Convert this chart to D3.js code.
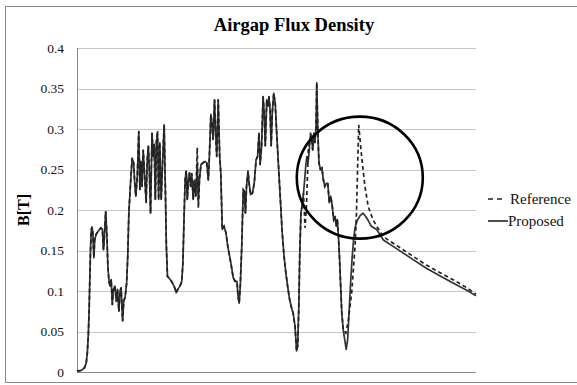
<!DOCTYPE html>
<html>
<head>
<meta charset="utf-8">
<script src="https://cdn.jsdelivr.net/npm/d3@7"></script>
<style>
  body { margin: 0; background: #fff; }
  svg text { font-family: 'Liberation Serif', 'Times New Roman', Times, 'DejaVu Serif', serif !important; }
</style>
</head>
<body>
<div id="chart"></div>
<script>
// sample positions along the airgap (no labels on the x axis)
const position = [0, 12, 20, 25, 28, 31, 33, 35, 37, 39, 41, 43, 46, 48, 52, 58, 65, 69, 72, 74, 78, 81, 84, 87, 90, 93, 96, 99, 103, 107, 110, 114, 117, 120, 124, 127, 131, 135, 138, 141, 145, 150, 154, 157, 160, 164, 168, 171, 174, 177, 180, 184, 188, 191, 194, 197, 200, 204, 207, 210, 213, 216, 219, 222, 225, 229, 233, 237, 240, 243, 246, 250, 257, 264, 270, 274, 280, 285, 288, 291, 294, 297, 300, 303, 306, 309, 312, 316, 319, 323, 327, 330, 333, 337, 342, 348, 353, 357, 360, 364, 367, 370, 374, 377, 380, 384, 388, 391, 395, 400, 405, 410, 415, 420, 425, 430, 435, 438, 441, 444, 448, 452, 455, 458, 461, 465, 468, 472, 477, 482, 487, 491, 495, 498, 502, 506, 509, 512, 516, 519, 522, 525, 528, 531, 535, 539, 543, 548, 553, 558, 563, 568, 573, 578, 583, 588, 593, 597, 600, 603, 606, 609, 612, 616, 619, 622, 625, 628, 631, 635, 638, 641, 644, 647, 650, 652, 655, 658, 662, 666, 670, 674, 678, 682, 686, 690, 694, 698, 702, 705, 708, 711, 714, 717, 720, 724, 728, 732, 736, 740, 744, 748, 752, 756, 762, 770, 778, 785, 792, 800, 815, 833, 870, 910, 950, 990, 1030, 1060, 1085];
const proposed = [0.001, 0.002, 0.005, 0.011, 0.023, 0.048, 0.077, 0.118, 0.155, 0.176, 0.179, 0.172, 0.141, 0.163, 0.170, 0.174, 0.178, 0.176, 0.151, 0.163, 0.198, 0.172, 0.130, 0.112, 0.106, 0.114, 0.083, 0.102, 0.106, 0.087, 0.102, 0.075, 0.100, 0.104, 0.063, 0.087, 0.093, 0.110, 0.143, 0.196, 0.229, 0.264, 0.258, 0.233, 0.217, 0.242, 0.297, 0.225, 0.260, 0.229, 0.274, 0.242, 0.209, 0.262, 0.279, 0.246, 0.196, 0.295, 0.266, 0.281, 0.213, 0.285, 0.293, 0.213, 0.283, 0.213, 0.262, 0.305, 0.233, 0.155, 0.118, 0.116, 0.112, 0.106, 0.098, 0.102, 0.106, 0.112, 0.135, 0.188, 0.237, 0.248, 0.213, 0.237, 0.246, 0.229, 0.245, 0.213, 0.237, 0.217, 0.258, 0.209, 0.237, 0.256, 0.258, 0.260, 0.258, 0.237, 0.266, 0.318, 0.307, 0.287, 0.336, 0.295, 0.266, 0.336, 0.266, 0.246, 0.176, 0.180, 0.172, 0.155, 0.143, 0.130, 0.116, 0.112, 0.112, 0.093, 0.085, 0.106, 0.155, 0.225, 0.223, 0.196, 0.229, 0.248, 0.233, 0.219, 0.221, 0.233, 0.262, 0.266, 0.295, 0.256, 0.279, 0.340, 0.320, 0.279, 0.336, 0.328, 0.340, 0.324, 0.279, 0.320, 0.344, 0.332, 0.295, 0.254, 0.213, 0.172, 0.143, 0.122, 0.105, 0.090, 0.080, 0.072, 0.056, 0.026, 0.032, 0.077, 0.151, 0.196, 0.205, 0.221, 0.237, 0.254, 0.266, 0.258, 0.270, 0.295, 0.291, 0.274, 0.295, 0.283, 0.303, 0.357, 0.295, 0.258, 0.250, 0.252, 0.237, 0.229, 0.233, 0.233, 0.209, 0.217, 0.205, 0.188, 0.192, 0.180, 0.188, 0.167, 0.139, 0.106, 0.073, 0.052, 0.040, 0.028, 0.040, 0.075, 0.110, 0.140, 0.163, 0.178, 0.187, 0.193, 0.196, 0.192, 0.187, 0.180, 0.176, 0.163, 0.152, 0.140, 0.128, 0.118, 0.108, 0.101, 0.094];

const refPosition = [0, 12, 20, 25, 28, 31, 33, 35, 37, 39, 41, 43, 46, 48, 52, 58, 65, 69, 72, 74, 78, 81, 84, 87, 90, 93, 96, 99, 103, 107, 110, 114, 117, 120, 124, 127, 131, 135, 138, 141, 145, 150, 154, 157, 160, 164, 168, 171, 174, 177, 180, 184, 188, 191, 194, 197, 200, 204, 207, 210, 213, 216, 219, 222, 225, 229, 233, 237, 240, 243, 246, 250, 257, 264, 270, 274, 280, 285, 288, 291, 294, 297, 300, 303, 306, 309, 312, 316, 319, 323, 327, 330, 333, 337, 342, 348, 353, 357, 360, 364, 367, 370, 374, 377, 380, 384, 388, 391, 395, 400, 405, 410, 415, 420, 425, 430, 435, 438, 441, 444, 448, 452, 455, 458, 461, 465, 468, 472, 477, 482, 487, 491, 495, 498, 502, 506, 509, 512, 516, 519, 522, 525, 528, 531, 535, 539, 543, 548, 553, 558, 563, 568, 573, 578, 583, 588, 593, 597, 600, 603, 606, 609, 612, 616, 620, 624, 629, 633, 638, 641, 644, 647, 650, 652, 655, 658, 662, 666, 670, 674, 678, 682, 686, 690, 694, 698, 702, 705, 708, 711, 714, 717, 720, 724, 731, 737, 747, 756, 760, 766, 774, 783, 792, 805, 815, 833, 870, 910, 950, 990, 1030, 1060, 1085];
const reference = [0.001, 0.002, 0.005, 0.011, 0.023, 0.048, 0.077, 0.118, 0.155, 0.176, 0.179, 0.172, 0.141, 0.163, 0.170, 0.174, 0.178, 0.176, 0.151, 0.163, 0.198, 0.172, 0.130, 0.112, 0.106, 0.114, 0.083, 0.102, 0.106, 0.087, 0.102, 0.075, 0.100, 0.104, 0.063, 0.087, 0.093, 0.110, 0.143, 0.196, 0.229, 0.264, 0.258, 0.233, 0.217, 0.242, 0.297, 0.225, 0.260, 0.229, 0.274, 0.242, 0.209, 0.262, 0.279, 0.246, 0.196, 0.295, 0.266, 0.281, 0.213, 0.285, 0.298, 0.213, 0.283, 0.213, 0.262, 0.305, 0.233, 0.155, 0.118, 0.116, 0.112, 0.106, 0.098, 0.102, 0.106, 0.112, 0.135, 0.188, 0.237, 0.248, 0.213, 0.237, 0.246, 0.229, 0.245, 0.213, 0.237, 0.217, 0.277, 0.202, 0.237, 0.256, 0.258, 0.260, 0.258, 0.237, 0.266, 0.318, 0.307, 0.287, 0.336, 0.295, 0.266, 0.336, 0.266, 0.246, 0.176, 0.180, 0.172, 0.155, 0.143, 0.130, 0.116, 0.112, 0.112, 0.093, 0.085, 0.106, 0.155, 0.225, 0.223, 0.196, 0.229, 0.248, 0.233, 0.219, 0.221, 0.233, 0.262, 0.266, 0.295, 0.256, 0.279, 0.340, 0.320, 0.279, 0.336, 0.328, 0.340, 0.324, 0.279, 0.320, 0.344, 0.332, 0.295, 0.254, 0.213, 0.172, 0.143, 0.122, 0.105, 0.090, 0.080, 0.072, 0.056, 0.026, 0.032, 0.077, 0.151, 0.196, 0.205, 0.221, 0.178, 0.205, 0.274, 0.285, 0.291, 0.274, 0.295, 0.283, 0.303, 0.357, 0.295, 0.258, 0.250, 0.252, 0.237, 0.229, 0.233, 0.233, 0.209, 0.217, 0.205, 0.188, 0.192, 0.180, 0.188, 0.167, 0.139, 0.106, 0.073, 0.052, 0.048, 0.061, 0.098, 0.155, 0.197, 0.305, 0.266, 0.229, 0.204, 0.188, 0.180, 0.167, 0.156, 0.144, 0.132, 0.122, 0.112, 0.104, 0.096];

const yTicks = [0, 0.05, 0.1, 0.15, 0.2, 0.25, 0.3, 0.35, 0.4];
const yTickLabels = ['0', '0.05', '0.1', '0.15', '0.2', '0.25', '0.3', '0.35', '0.4'];
const seriesNames = ['Reference', 'Proposed'];
// highlighted region (centre in data units)
const highlight = { pos: 769, value: 0.24 };

const serif = "'Liberation Serif', 'Times New Roman', Times, 'DejaVu Serif', serif";

const margin = { top: 48, right: 101, bottom: 13, left: 77 },
  W = 577, H = 385,
  width = W - margin.left - margin.right,
  height = H - margin.top - margin.bottom;

const root = d3.select('#chart')
  .append('svg')
  .attr('width', W)
  .attr('height', H)
  .attr('font-family', serif);

root.append('rect')
  .attr('width', W).attr('height', H)
  .attr('fill', '#fff');

// outer frame
root.append('rect')
  .attr('x', 5.5).attr('y', 6.5)
  .attr('width', W).attr('height', 376)
  .attr('fill', 'none')
  .attr('stroke', '#8a8a8a');

const svg = root.append('g')
  .attr('transform', 'translate(' + margin.left + ',' + margin.top + ')');

const x = d3.scaleLinear()
  .range([0, width])
  .domain([0, 1085]);
const y = d3.scaleLinear()
  .range([height, 0])
  .domain([0, 0.4]);

// grid
svg.append('g')
  .selectAll('line')
  .data(yTicks.filter(d => d > 0))
  .join('line')
  .attr('x1', 0).attr('x2', width)
  .attr('y1', d => Math.round(y(d)) + 0.5)
  .attr('y2', d => Math.round(y(d)) + 0.5)
  .attr('stroke', '#c6c6c6');

// y axis labels
const yAxis = svg.append('g')
  .call(d3.axisLeft(y).tickValues(yTicks).tickFormat((d, i) => yTickLabels[i]).tickSize(0).tickPadding(13))
  .attr('font-family', serif);
yAxis.select('.domain').remove();
yAxis.selectAll('text')
  .attr('font-size', 13.5)
  .attr('fill', '#111');

// axis lines
svg.append('line')
  .attr('x1', 0.5).attr('x2', 0.5)
  .attr('y1', 0).attr('y2', height)
  .attr('stroke', '#8a8a8a');
svg.append('line')
  .attr('x1', 0).attr('x2', width)
  .attr('y1', height + 0.5).attr('y2', height + 0.5)
  .attr('stroke', '#8a8a8a');

// series
const proposedLine = d3.line()
  .x((d, i) => x(position[i]))
  .y(d => y(d));
const referenceLine = d3.line()
  .x((d, i) => x(refPosition[i]))
  .y(d => y(d));

svg.append('path')
  .datum(proposed)
  .attr('fill', 'none')
  .attr('stroke', '#333')
  .attr('stroke-width', 1.7)
  .attr('stroke-linejoin', 'round')
  .attr('d', proposedLine);

svg.append('path')
  .datum(reference)
  .attr('fill', 'none')
  .attr('stroke', '#222')
  .attr('stroke-width', 1.7)
  .attr('stroke-dasharray', '4,3')
  .attr('d', referenceLine);

// annotation ellipse
svg.append('ellipse')
  .attr('cx', x(highlight.pos))
  .attr('cy', y(highlight.value))
  .attr('rx', 63)
  .attr('ry', 61)
  .attr('fill', 'none')
  .attr('stroke', '#000')
  .attr('stroke-width', 2.6);

// title
root.append('text')
  .attr('x', 294).attr('y', 31)
  .attr('text-anchor', 'middle')
  .attr('font-size', 18.5)
  .attr('font-weight', 'bold')
  .text('Airgap Flux Density');

// y label
root.append('text')
  .attr('transform', 'translate(29,210) rotate(-90)')
  .attr('text-anchor', 'middle')
  .attr('font-size', 16)
  .attr('font-weight', 'bold')
  .text('B[T]');

// legend
const legend = root.append('g')
  .attr('transform', 'translate(488,199)');
legend.selectAll('g')
  .data(seriesNames)
  .join('g')
  .attr('transform', (d, i) => 'translate(0,' + i * 22 + ')')
  .each(function (d, i) {
    const g = d3.select(this);
    g.append('line')
      .attr('x1', 0).attr('x2', i === 0 ? 18 : 20)
      .attr('stroke', '#222')
      .attr('stroke-width', 1.6)
      .attr('stroke-dasharray', i === 0 ? '5,4' : null);
    g.append('text')
      .attr('x', i === 0 ? 22 : 20)
      .attr('dy', '0.33em')
      .attr('font-size', 15)
      .attr('fill', '#111')
      .text(d);
  });
</script>
</body>
</html>
